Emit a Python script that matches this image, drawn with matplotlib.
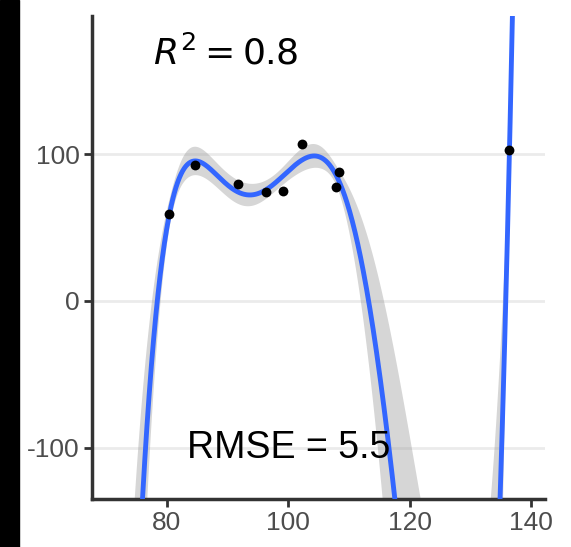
import numpy as np
import matplotlib.pyplot as plt
from matplotlib.patches import Rectangle

# points
x_pts = [80.4, 84.6, 91.8, 96.4, 99.1, 102.3, 107.8, 108.3, 136.4]
y_pts = [59, 93, 80, 74, 75, 107, 78, 88, 103]

deg = 5
xticks = [80, 100, 120, 140]
yticks = [-100, 0, 100]

x = np.array(x_pts)
y = np.array(y_pts)
xc = x.mean()
X = np.vander(x - xc, deg + 1)
coef, *_ = np.linalg.lstsq(X, y, rcond=None)
resid = y - X @ coef
dof = len(x) - (deg + 1)
s2 = (resid ** 2).sum() / dof
cov = s2 * np.linalg.inv(X.T @ X)

xs = np.linspace(70, 142, 800)
Xs = np.vander(xs - xc, deg + 1)
fit = Xs @ coef
se = np.sqrt(np.einsum('ij,jk,ik->i', Xs, cov, Xs))
band = 0.9  # band in the original is much narrower than a t-interval

plt.rcParams['font.family'] = ['Liberation Sans', 'DejaVu Sans']
plt.rcParams['axes.unicode_minus'] = False
fig = plt.figure(figsize=(5.71, 5.47), dpi=100)
ax = fig.add_axes([0.161, 0.088, 0.793, 0.883])

ax.fill_between(xs, fit - band * se, fit + band * se, color='#999999', alpha=0.4, lw=0, zorder=2)
ax.plot(xs, fit, color='#3366FF', lw=3.5, zorder=3)
ax.scatter(x, y, s=50, color='black', zorder=4, lw=0)

ax.set_xlim(67.7, 142.2)
ax.set_ylim(-135, 194.5)
ax.set_xticks(xticks)
ax.set_yticks(yticks)
ax.grid(axis='y', color='#ebebeb', lw=2, zorder=0)
ax.set_axisbelow(True)
for side in ['top', 'right']:
    ax.spines[side].set_visible(False)
for side in ['left', 'bottom']:
    ax.spines[side].set_linewidth(2.5)
    ax.spines[side].set_color('#333333')
ax.tick_params(colors='#333333', width=2, length=6, labelsize=19, labelcolor='#4d4d4d', pad=3)

ax.text(0.295, 0.92, r'$\mathit{R}^2 = 0.8$', transform=ax.transAxes, fontsize=26, ha='center', va='center')
ax.text(0.435, 0.105, 'RMSE = 5.5', transform=ax.transAxes, fontsize=27, ha='center', va='center')

fig.patches.append(Rectangle((0, 0), 19 / 571, 1, transform=fig.transFigure, color='black', zorder=10))

fig.savefig('out.png', dpi=100)
